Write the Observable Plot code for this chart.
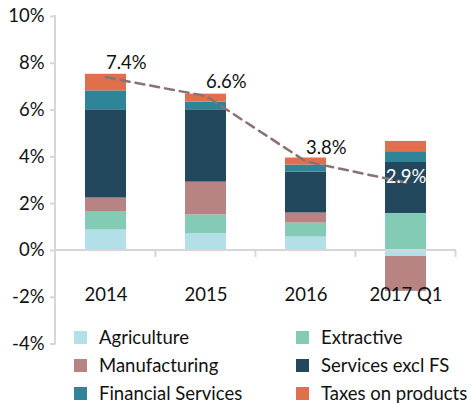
<!DOCTYPE html>
<html><head><meta charset="utf-8">
<script src="https://cdn.jsdelivr.net/npm/d3@7"></script>
<script src="https://cdn.jsdelivr.net/npm/@observablehq/plot@0.6"></script>
<style>
html,body{margin:0;padding:0;background:#fff;}
#chart{position:relative;width:471px;height:403px;font-family:Lato,sans-serif;}
#legend{position:absolute;left:74px;top:323px;display:grid;grid-template-columns:222px 175px;grid-auto-rows:28px;font-size:18.5px;color:#111;font-family:Lato,sans-serif;}
.item{display:flex;align-items:center;white-space:nowrap;}
.sw{width:13px;height:13px;margin-right:12px;flex:none;}
</style></head><body><div id="chart"></div>
<script>
const categories = ["2014", "2015", "2016", "2017 Q1"];
const sectors = ["Agriculture", "Extractive", "Manufacturing", "Services excl FS", "Financial Services", "Taxes on products"];
const agriculture       = [0.87, 0.71, 0.57, -0.26];
const extractive        = [0.77, 0.81, 0.60, 1.58];
const manufacturing     = [0.60, 1.40, 0.43, -1.49];
const servicesExclFS    = [3.77, 3.09, 1.75, 2.18];
const financialServices = [0.81, 0.33, 0.30, 0.46];
const taxesOnProducts   = [0.71, 0.34, 0.30, 0.44];
const totalGrowth = [7.4, 6.6, 3.8, 2.9];
const totalLabels = ["7.4%", "6.6%", "3.8%", "2.9%"];
const yTicks = [-4, -2, 0, 2, 4, 6, 8, 10];
const sectorColors = ["#b3e0e8", "#84cbb6", "#b78383", "#23475d", "#2f8497", "#e06f4b"];

const seriesValues = [agriculture, extractive, manufacturing, servicesExclFS, financialServices, taxesOnProducts];
const rows = [];
categories.forEach((c, i) => sectors.forEach((s, j) => rows.push({year: c, sector: s, value: seriesValues[j][i]})));
const totals = categories.map((c, i) => ({year: c, value: totalGrowth[i], label: totalLabels[i]}));

function axesMark(index, scales, values, dimensions) {
  const x = scales.x, y = scales.y;
  const {width, marginLeft, marginRight} = dimensions;
  const bw = typeof x.bandwidth === "function" ? x.bandwidth() : scales.scales.x.bandwidth;
  const step = typeof x.step === "function" ? x.step() : scales.scales.x.step;
  const g = d3.create("svg:g").attr("fill", "none").attr("stroke", "#d6d6d6").attr("stroke-width", 2);
  g.append("line").attr("x1", marginLeft).attr("x2", marginLeft).attr("y1", y(yTicks[yTicks.length - 1]) - 1).attr("y2", y(yTicks[0]) + 1);
  g.append("line").attr("x1", marginLeft).attr("x2", width - marginRight).attr("y1", y(0)).attr("y2", y(0));
  const bounds = categories.map(c => x(c) + bw / 2 - step / 2);
  bounds.push(x(categories[categories.length - 1]) + bw / 2 + step / 2);
  for (const b of bounds.slice(1)) {
    g.append("line").attr("x1", b).attr("x2", b).attr("y1", y(0)).attr("y2", y(0) + 7);
  }
  return g.node();
}

const plot = Plot.plot({
  width: 471,
  height: 403,
  marginLeft: 55,
  marginRight: 15,
  marginTop: 16,
  marginBottom: 59.5,
  style: {fontFamily: "Lato, sans-serif", fontSize: "18.5px", color: "#111", background: "#fff"},
  x: {type: "band", domain: categories, paddingInner: 0.59, paddingOuter: 0.295, axis: null},
  y: {domain: [-4, 10], axis: null},
  color: {domain: sectors, range: sectorColors},
  marks: [
    Plot.barY(rows, {x: "year", y: "value", fill: "sector"}),
    axesMark,
    Plot.axisY({ticks: yTicks, tickFormat: d => d + "%", tickSize: 5, tickPadding: 6, stroke: "#d6d6d6", strokeWidth: 2, strokeOpacity: 1, fill: "#111", label: null}),
    Plot.text(categories, {x: d => d, y: () => 0, text: d => d, dy: 45, fill: "#111"}),
    Plot.lineY(totals, {x: "year", y: "value", stroke: "#8a7272", strokeWidth: 2.5, strokeDasharray: "9,6"}),
    Plot.text(totals.slice(0, -1), {x: "year", y: "value", text: "label", textAnchor: "start", lineAnchor: "bottom", dy: -8, fill: "#111"}),
    Plot.text(totals.slice(-1), {x: "year", y: "value", text: "label", textAnchor: "middle", lineAnchor: "bottom", dy: 0, fill: "#fff"})
  ]
});

const chart = document.getElementById("chart");
chart.appendChild(plot);
const color = plot.scale("color");
const legend = document.createElement("div");
legend.id = "legend";
color.domain.forEach((s, i) => {
  const item = document.createElement("div");
  item.className = "item";
  const sw = document.createElement("span");
  sw.className = "sw";
  sw.style.background = color.range[i];
  const t = document.createElement("span");
  t.textContent = s;
  item.appendChild(sw); item.appendChild(t);
  legend.appendChild(item);
});
chart.appendChild(legend);
</script></body></html>
